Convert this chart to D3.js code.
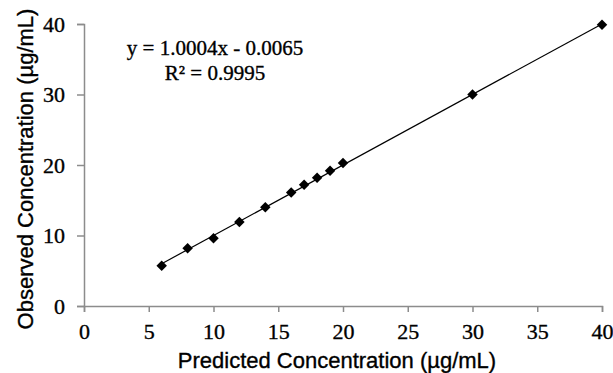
<!DOCTYPE html>
<html>
<head>
<meta charset="utf-8">
<script src="https://cdn.jsdelivr.net/npm/d3@7"></script>
<style>
  body { margin: 0; background: #fff; }
  text { stroke: #000; stroke-width: 0.35px; }
</style>
</head>
<body>
<div id="chart"></div>
<script>
// values
const predicted = [6, 8, 10, 12, 14, 16, 17, 18, 19, 20, 30, 40];
const observed = [5.7, 8.2, 9.6, 11.9, 14.0, 16.1, 17.2, 18.2, 19.2, 20.3, 30.0, 39.9];
const xTicks = [0, 5, 10, 15, 20, 25, 30, 35, 40];
const yTicks = [0, 10, 20, 30, 40];
// trendline as printed on the chart
const slope = 1.0004;
const intercept = -0.0065;
const eqLines = ['y = 1.0004x - 0.0065', 'R² = 0.9995'];

const width = 613, height = 373;
const serif = '"Liberation Serif", "Times New Roman", serif';
const sans = '"Liberation Sans", Arial, sans-serif';

const svg = d3.select('#chart')
  .append('svg')
  .attr('width', width)
  .attr('height', height);

const x = d3.scaleLinear().domain([0, 40]).range([84, 602]);
const y = d3.scaleLinear().domain([0, 40]).range([306, 24]);

// x axis
const gx = svg.append('g')
  .attr('transform', 'translate(0,' + y(0) + ')')
  .call(d3.axisBottom(x).tickValues(xTicks).tickSize(6).tickPadding(11).tickFormat(d3.format('d')));

// y axis
const gy = svg.append('g')
  .attr('transform', 'translate(' + x(0) + ',0)')
  .call(d3.axisLeft(y).tickValues(yTicks).tickSize(7).tickPadding(12).tickFormat(d3.format('d')));

[gx, gy].forEach(g => {
  g.select('.domain').attr('stroke', '#8c8c8c').attr('stroke-width', 1.5);
  g.selectAll('.tick line').attr('stroke', '#8c8c8c').attr('stroke-width', 1.5);
  g.selectAll('.tick text')
    .attr('fill', '#000')
    .style('font-family', serif)
    .style('font-size', '22px');
});

// trendline
const xMin = d3.min(predicted), xMax = d3.max(predicted);
svg.append('line')
  .attr('x1', x(xMin)).attr('y1', y(slope * xMin + intercept))
  .attr('x2', x(xMax)).attr('y2', y(slope * xMax + intercept))
  .attr('stroke', '#000')
  .attr('stroke-width', 1.2);

// diamond markers
const pts = predicted.map((p, i) => ({ p: p, o: observed[i] }));
svg.append('g').selectAll('path')
  .data(pts)
  .join('path')
  .attr('d', d3.symbol().type(d3.symbolSquare).size(55))
  .attr('transform', d => 'translate(' + x(d.p) + ',' + y(d.o) + ') rotate(45)')
  .attr('fill', '#000');

// equation
svg.append('g').selectAll('text')
  .data(eqLines)
  .join('text')
  .attr('x', 215)
  .attr('y', (d, i) => 55 + i * 25)
  .attr('text-anchor', 'middle')
  .style('font-family', serif)
  .style('font-size', '21px')
  .text(d => d);

// axis titles
svg.append('text')
  .attr('x', 337)
  .attr('y', 368)
  .attr('text-anchor', 'middle')
  .style('font-family', sans)
  .style('font-size', '22px')
  .text('Predicted Concentration (µg/mL)');

svg.append('text')
  .attr('transform', 'translate(33,169) rotate(-90)')
  .attr('text-anchor', 'middle')
  .style('font-family', sans)
  .style('font-size', '22px')
  .text('Observed Concentration (µg/mL)');
</script>
</body>
</html>
